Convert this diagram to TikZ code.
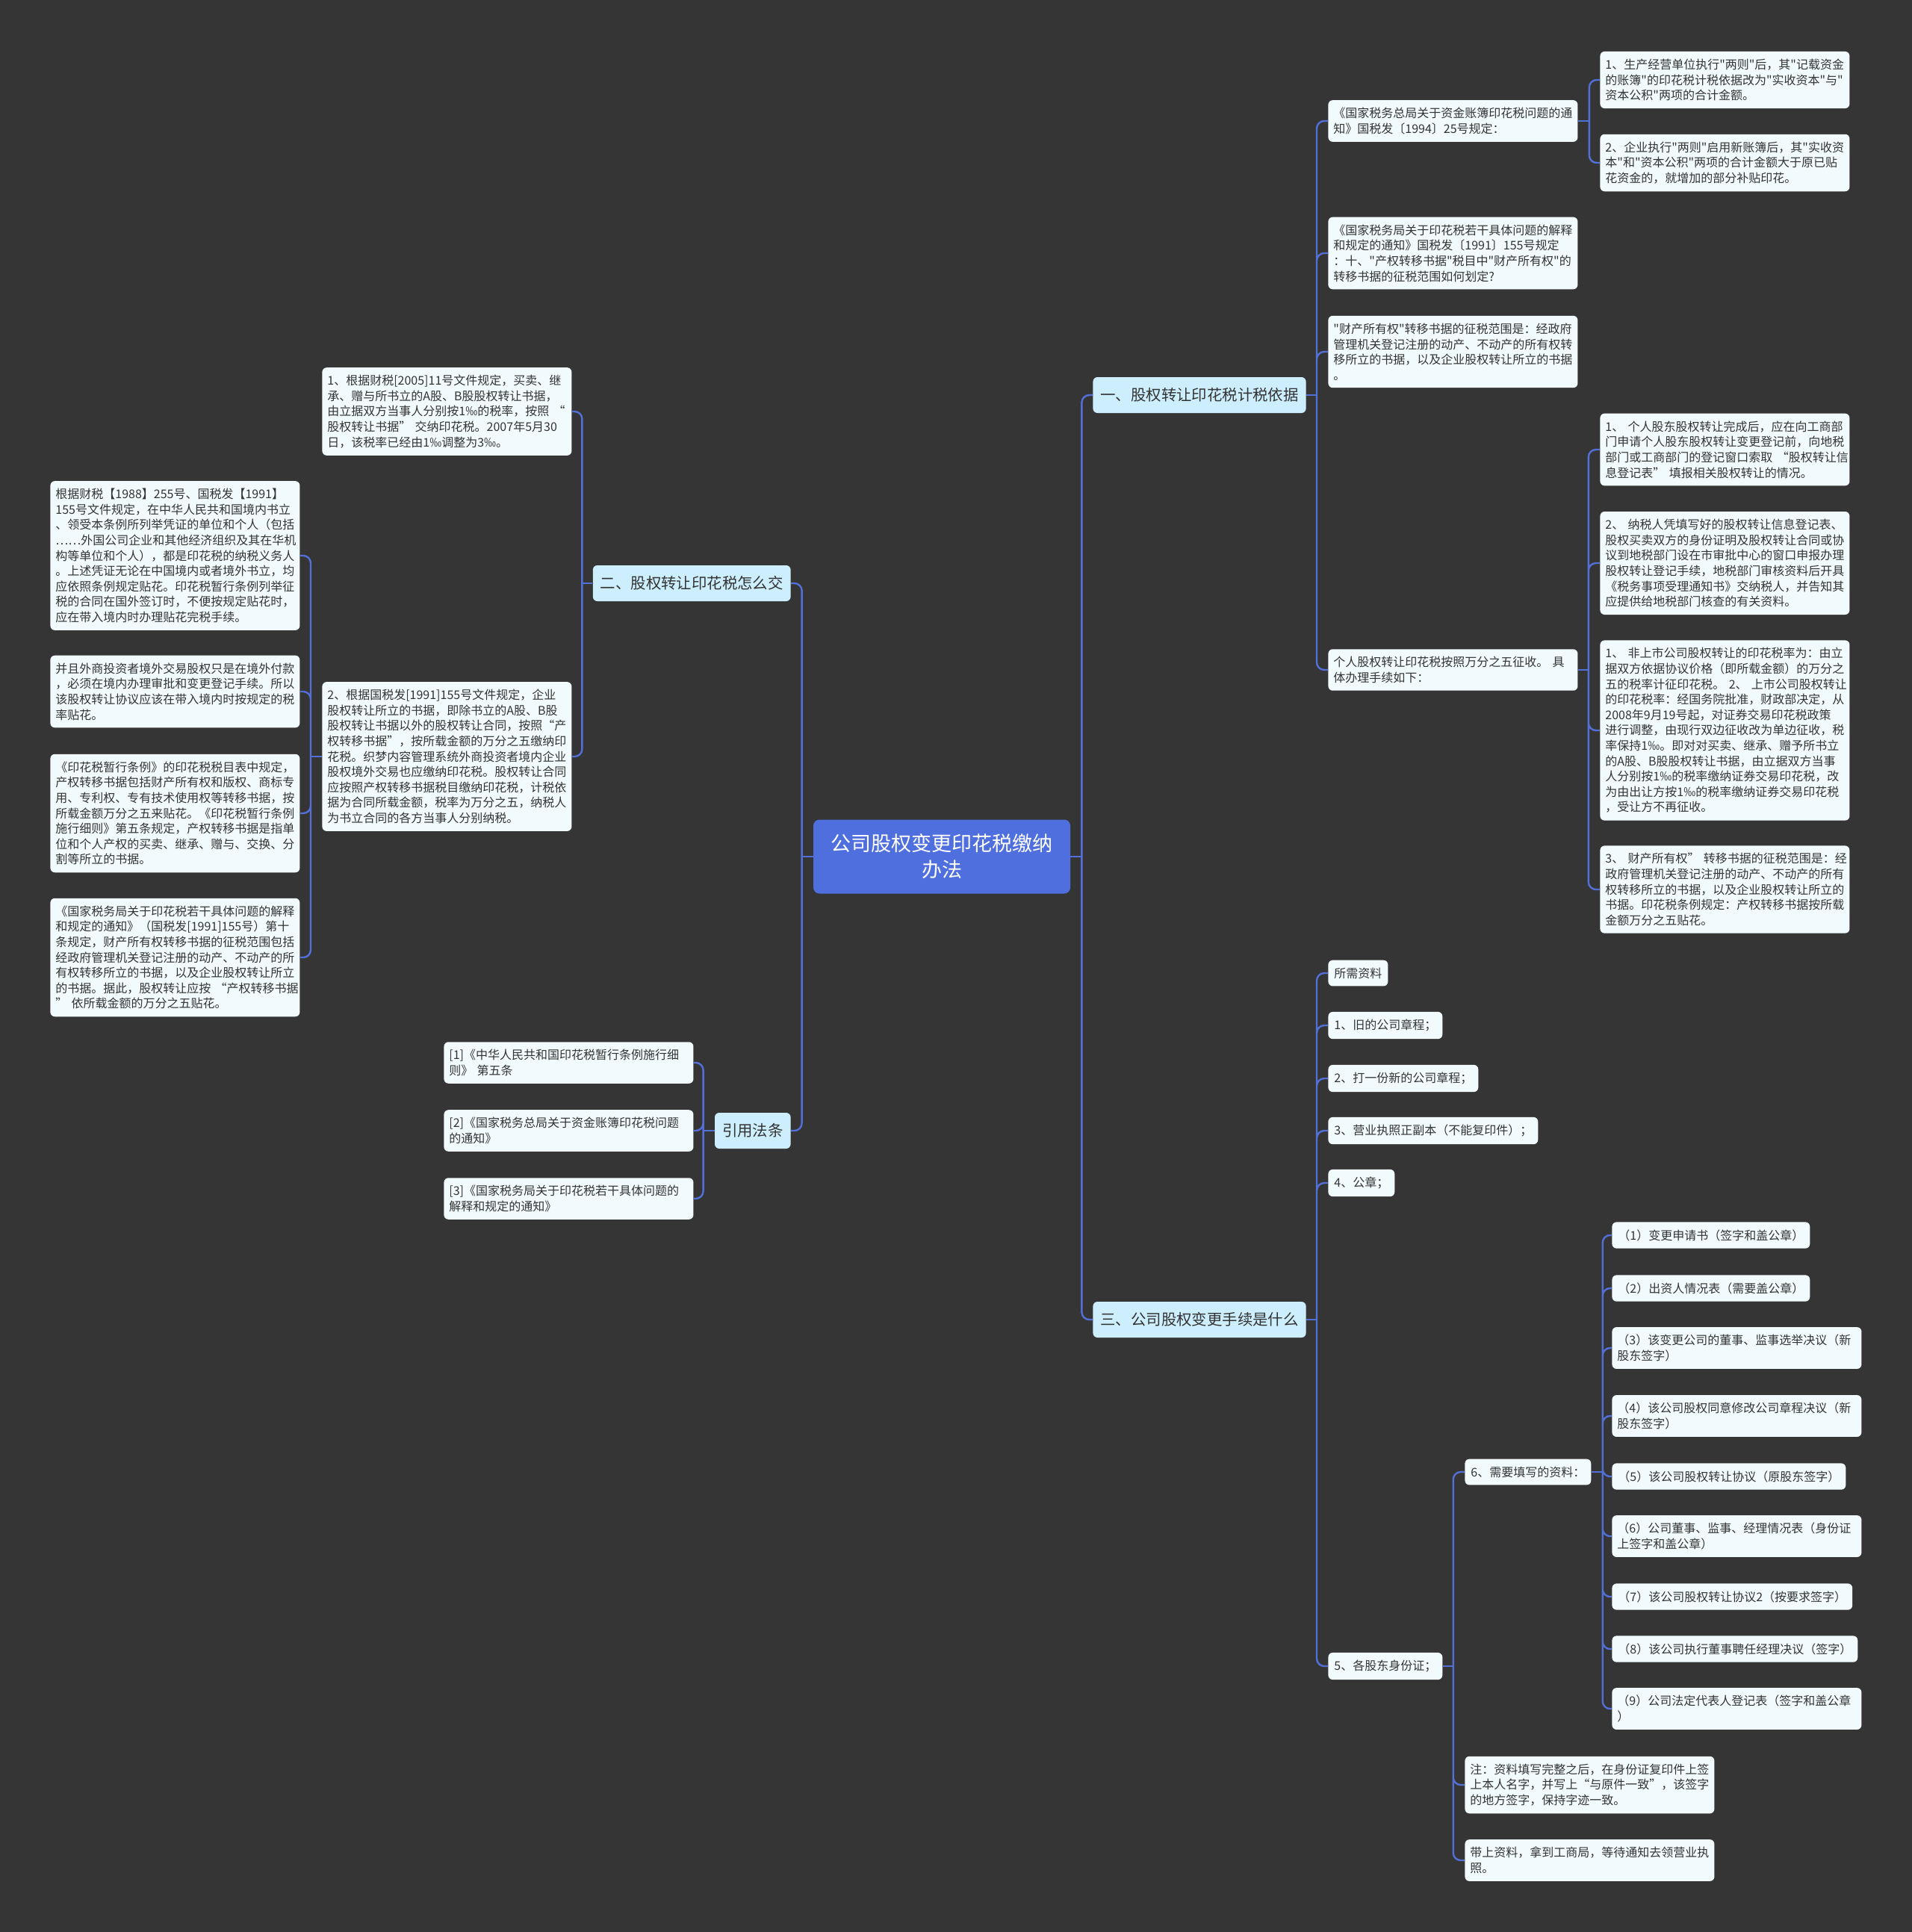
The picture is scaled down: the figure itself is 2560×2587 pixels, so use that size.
\documentclass[tikz,border=0pt]{standalone}
\usepackage{fontspec}
\setmainfont{Noto Sans CJK SC}
\newfontfamily\cjkplain{Noto Sans CJK SC}
\definecolor{canvasgray}{RGB}{54, 53, 53}
\definecolor{rootblue}{RGB}{78, 111, 221}
\definecolor{linkblue}{RGB}{82, 112, 216}
\definecolor{branchbg}{RGB}{205, 238, 252}
\definecolor{leafbg}{RGB}{241, 251, 253}
\definecolor{inkgray}{RGB}{51, 51, 51}
\usepackage{tikz}

\tikzset{
  rootbox/.style={fill=rootblue, text=white, rounded corners=4pt, minimum width=172pt, minimum height=49.5pt, text width=160pt, align=center, font=\cjkplain\fontsize{13.5}{17.5}\selectfont},
  branchbox/.style={fill=branchbg, text=inkgray, rounded corners=3pt, inner xsep=5pt, minimum height=24pt, anchor=west, font=\cjkplain\fontsize{10.2}{12}\selectfont},
  leafbox/.style={fill=leafbg, text=inkgray, rounded corners=3pt, inner xsep=4pt, inner ysep=5pt, anchor=west, font=\cjkplain\fontsize{8}{10.3}\selectfont},
  textbox/.style={leafbox, inner xsep=3.5pt, text width=160pt, align=left},
  link/.style={draw=linkblue, line width=1.2pt, rounded corners=5pt},
}

\begin{document}
\begin{tikzpicture}[x=0.5pt, y=-0.5pt]
  \fill[canvasgray] (0,0) rectangle (2560,2587);
  \useasboundingbox (0,0) rectangle (2560,2587);

  % Centre
  \node[rootbox] (root) at (1261,1147) {公司股权变更印花税缴纳\\办法};

  % Main branches
  \node[branchbox] (basis) at (1463,529) {一、股权转让印花税计税依据};
  \node[branchbox] (steps) at (1463,1767) {三、公司股权变更手续是什么};
  \node[branchbox, anchor=east] (howpay) at (1059,781) {二、股权转让印花税怎么交};
  \node[branchbox, anchor=east] (laws) at (1059,1514) {引用法条};

  % Branch one
  \node[textbox] (notice94) at (1778,162) {《国家税务总局关于资金账簿印花税问题的通\\知》国税发〔1994〕25号规定：};
  \node[textbox] (notice91) at (1778,339) {《国家税务局关于印花税若干具体问题的解释\\和规定的通知》国税发〔1991〕155号规定\\：十、"产权转移书据"税目中"财产所有权"的\\转移书据的征税范围如何划定?};
  \node[textbox] (scope) at (1778,471) {"财产所有权"转移书据的征税范围是：经政府\\管理机关登记注册的动产、不动产的所有权转\\移所立的书据，以及企业股权转让所立的书据\\。};
  \node[textbox] (personal) at (1778,897) {个人股权转让印花税按照万分之五征收。~具\\体办理手续如下：};

  \node[textbox] (rule1) at (2142,107) {1、生产经营单位执行"两则"后，其"记载资金\\的账簿"的印花税计税依据改为"实收资本"与"\\资本公积"两项的合计金额。};
  \node[textbox] (rule2) at (2142,218) {2、企业执行"两则"启用新账簿后，其"实收资\\本"和"资本公积"两项的合计金额大于原已贴\\花资金的，就增加的部分补贴印花。};

  \node[textbox] (proc1) at (2142,602) {1、~个人股东股权转让完成后，应在向工商部\\门申请个人股东股权转让变更登记前，向地税\\部门或工商部门的登记窗口索取~“股权转让信\\息登记表”~填报相关股权转让的情况。};
  \node[textbox] (proc2) at (2142,754) {2、~纳税人凭填写好的股权转让信息登记表、\\股权买卖双方的身份证明及股权转让合同或协\\议到地税部门设在市审批中心的窗口申报办理\\股权转让登记手续，地税部门审核资料后开具\\《税务事项受理通知书》交纳税人，并告知其\\应提供给地税部门核查的有关资料。};
  \node[textbox] (proc3) at (2142,978) {1、~非上市公司股权转让的印花税率为：由立\\据双方依据协议价格（即所载金额）的万分之\\五的税率计征印花税。~2、~上市公司股权转让\\的印花税率：经国务院批准，财政部决定，从\\2008年9月19号起，对证券交易印花税政策\\进行调整，由现行双边征收改为单边征收，税\\率保持1‰。即对对买卖、继承、赠予所书立\\的A股、B股股权转让书据，由立据双方当事\\人分别按1‰的税率缴纳证券交易印花税，改\\为由出让方按1‰的税率缴纳证券交易印花税\\，受让方不再征收。};
  \node[textbox] (proc4) at (2142,1191) {3、~财产所有权”~转移书据的征税范围是：经\\政府管理机关登记注册的动产、不动产的所有\\权转移所立的书据，以及企业股权转让所立的\\书据。印花税条例规定：产权转移书据按所载\\金额万分之五贴花。};

  % Branch two
  \node[textbox] (pay1) at (431,551) {1、根据财税[2005]11号文件规定，买卖、继\\承、赠与所书立的A股、B股股权转让书据，\\由立据双方当事人分别按1‰的税率，按照~“\\股权转让书据”~交纳印花税。2007年5月30\\日，该税率已经由1‰调整为3‰。};
  \node[textbox] (pay2) at (431,1013) {2、根据国税发[1991]155号文件规定，企业\\股权转让所立的书据，即除书立的A股、B股\\股权转让书据以外的股权转让合同，按照“产\\权转移书据”，按所载金额的万分之五缴纳印\\花税。织梦内容管理系统外商投资者境内企业\\股权境外交易也应缴纳印花税。股权转让合同\\应按照产权转移书据税目缴纳印花税，计税依\\据为合同所载金额，税率为万分之五，纳税人\\为书立合同的各方当事人分别纳税。};

  \node[textbox] (abroad1) at (67,744) {根据财税【1988】255号、国税发【1991】\\155号文件规定，在中华人民共和国境内书立\\、领受本条例所列举凭证的单位和个人（包括\\……外国公司企业和其他经济组织及其在华机\\构等单位和个人），都是印花税的纳税义务人\\。上述凭证无论在中国境内或者境外书立，均\\应依照条例规定贴花。印花税暂行条例列举征\\税的合同在国外签订时，不便按规定贴花时，\\应在带入境内时办理贴花完税手续。};
  \node[textbox] (abroad2) at (67,926) {并且外商投资者境外交易股权只是在境外付款\\，必须在境内办理审批和变更登记手续。所以\\该股权转让协议应该在带入境内时按规定的税\\率贴花。};
  \node[textbox] (abroad3) at (67,1089) {《印花税暂行条例》的印花税税目表中规定，\\产权转移书据包括财产所有权和版权、商标专\\用、专利权、专有技术使用权等转移书据，按\\所载金额万分之五来贴花。《印花税暂行条例\\施行细则》第五条规定，产权转移书据是指单\\位和个人产权的买卖、继承、赠与、交换、分\\割等所立的书据。};
  \node[textbox] (abroad4) at (67,1282) {《国家税务局关于印花税若干具体问题的解释\\和规定的通知》（国税发[1991]155号）第十\\条规定，财产所有权转移书据的征税范围包括\\经政府管理机关登记注册的动产、不动产的所\\有权转移所立的书据，以及企业股权转让所立\\的书据。据此，股权转让应按~“产权转移书据\\”~依所载金额的万分之五贴花。};

  % Citations
  \node[textbox] (cite1) at (594,1423) {[1]《中华人民共和国印花税暂行条例施行细\\则》~第五条};
  \node[textbox] (cite2) at (594,1514) {[2]《国家税务总局关于资金账簿印花税问题\\的通知》};
  \node[textbox] (cite3) at (594,1605) {[3]《国家税务局关于印花税若干具体问题的\\解释和规定的通知》};

  % Branch three
  \node[leafbox] (need) at (1778,1303) {所需资料};
  \node[leafbox] (doc1) at (1778,1373) {1、旧的公司章程；};
  \node[leafbox] (doc2) at (1778,1444) {2、打一份新的公司章程；};
  \node[leafbox] (doc3) at (1778,1514) {3、营业执照正副本（不能复印件）；};
  \node[leafbox] (doc4) at (1778,1584) {4、公章；};
  \node[leafbox] (doc5) at (1778,2231) {5、各股东身份证；};

  \node[leafbox] (doc6) at (1961,1971) {6、需要填写的资料：};
  \node[textbox] (remark) at (1961,2390) {注：资料填写完整之后，在身份证复印件上签\\上本人名字，并写上“与原件一致”，该签字\\的地方签字，保持字迹一致。};
  \node[textbox] (finish) at (1961,2491) {带上资料，拿到工商局，等待通知去领营业执\\照。};

  \node[leafbox] (form1) at (2158,1654) {（1）变更申请书（签字和盖公章）};
  \node[leafbox] (form2) at (2158,1725) {（2）出资人情况表（需要盖公章）};
  \node[textbox] (form3) at (2158,1805) {（3）该变更公司的董事、监事选举决议（新\\股东签字）};
  \node[textbox] (form4) at (2158,1896) {（4）该公司股权同意修改公司章程决议（新\\股东签字）};
  \node[leafbox] (form5) at (2158,1977) {（5）该公司股权转让协议（原股东签字）};
  \node[textbox] (form6) at (2158,2057) {（6）公司董事、监事、经理情况表（身份证\\上签字和盖公章）};
  \node[leafbox] (form7) at (2158,2138) {（7）该公司股权转让协议2（按要求签字）};
  \node[leafbox] (form8) at (2158,2208) {（8）该公司执行董事聘任经理决议（签字）};
  \node[textbox] (form9) at (2158,2288) {（9）公司法定代表人登记表（签字和盖公章\\）};

  % Connectors
  \draw[link] (root.east) -- ++(15,0) coordinate (rootR);
  \draw[link] (rootR) |- (basis.west) (rootR) |- (steps.west);
  \draw[link] (root.west) -- ++(-15,0) coordinate (rootL);
  \draw[link] (rootL) |- (howpay.east) (rootL) |- (laws.east);

  \draw[link] (basis.east) -- ++(14,0) coordinate (basisR);
  \draw[link] (basisR) |- (notice94.west) (basisR) |- (notice91.west) (basisR) |- (scope.west) (basisR) |- (personal.west);
  \draw[link] (notice94.east) -- ++(15,0) coordinate (noticeR);
  \draw[link] (noticeR) |- (rule1.west) (noticeR) |- (rule2.west);
  \draw[link] (personal.east) -- ++(14,0) coordinate (personalR);
  \draw[link] (personalR) |- (proc1.west) (personalR) |- (proc2.west) (personalR) |- (proc3.west) (personalR) |- (proc4.west);

  \draw[link] (howpay.west) -- ++(-14,0) coordinate (howpayL);
  \draw[link] (howpayL) |- (pay1.east) (howpayL) |- (pay2.east);
  \draw[link] (pay2.west) -- ++(-15,0) coordinate (payL);
  \draw[link] (payL) |- (abroad1.east) (payL) |- (abroad2.east) (payL) |- (abroad3.east) (payL) |- (abroad4.east);

  \draw[link] (laws.west) -- ++(-15,0) coordinate (lawsL);
  \draw[link] (lawsL) |- (cite1.east) (lawsL) |- (cite2.east) (lawsL) |- (cite3.east);

  \draw[link] (steps.east) -- ++(14,0) coordinate (stepsR);
  \draw[link] (stepsR) |- (need.west) (stepsR) |- (doc1.west) (stepsR) |- (doc2.west) (stepsR) |- (doc3.west) (stepsR) |- (doc4.west) (stepsR) |- (doc5.west);
  \draw[link] (doc5.east) -- ++(14,0) coordinate (doc5R);
  \draw[link] (doc5R) |- (doc6.west) (doc5R) |- (remark.west) (doc5R) |- (finish.west);
  \draw[link] (doc6.east) -- ++(15,0) coordinate (doc6R);
  \draw[link] (doc6R) |- (form1.west) (doc6R) |- (form2.west) (doc6R) |- (form3.west) (doc6R) |- (form4.west) (doc6R) |- (form5.west) (doc6R) |- (form6.west) (doc6R) |- (form7.west) (doc6R) |- (form8.west) (doc6R) |- (form9.west);
\end{tikzpicture}
\end{document}
